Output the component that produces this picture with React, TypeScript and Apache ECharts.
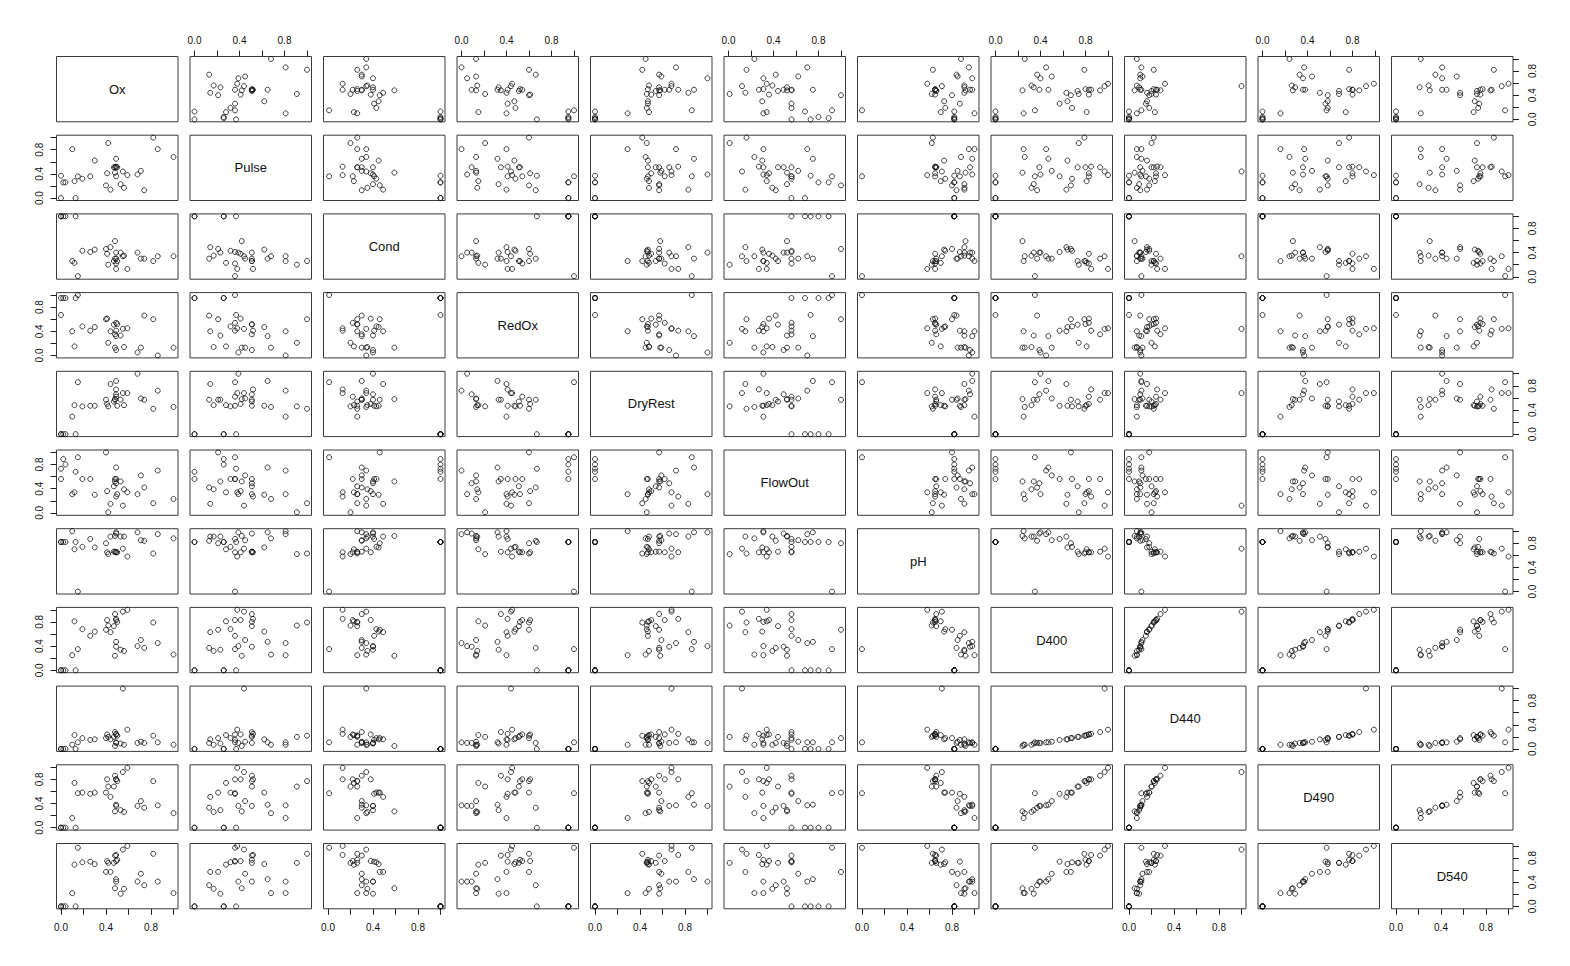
import React, { useEffect, useRef } from "react";
import * as echarts from "echarts";

// Variable names (diagonal labels)
const varNames = ["Ox", "Pulse", "Cond", "RedOx", "DryRest", "FlowOut", "pH", "D400", "D440", "D490", "D540"];

const Ox = [0, 0, 0.02, 0.04, 0.13, 0.48, 0.1, 1.0, 0.56, 0.53, 0.15, 0.74, 0.49, 0.68, 0.86, 0.49, 0.71, 0.26, 0.44, 0.3, 0.4, 0.19, 0.47, 0.42, 0.82, 0.5, 0.12, 0.41, 0.49, 0.49, 0.48, 0.55, 0.59];
const Pulse = [0.37, 0, 0.26, 0.26, 0, 0.42, 0.81, 0.68, 0.17, 0.23, 0.36, 0.13, 0.51, 0.39, 0.81, 0.65, 0.45, 0.36, 0.14, 0.62, 0.21, 0.32, 0.51, 0.91, 1.0, 0.51, 0.28, 0.41, 0.36, 0.52, 0.51, 0.44, 0.38];
const Cond = [1.0, 1.0, 1.0, 1.0, 1.0, 0.59, 0.26, 0.34, 0.35, 0.4, 0.01, 0.3, 0.4, 0.4, 0.34, 0.3, 0.3, 0.41, 0.49, 0.45, 0.46, 0.43, 0.26, 0.2, 0.26, 0.26, 0.23, 0.38, 0.22, 0.13, 0.3, 0.34, 0.13];
const RedOx = [0.67, 0.95, 0.95, 0.95, 0.95, 0.13, 0.4, 0.13, 0.14, 0.33, 1.0, 0.66, 0.09, 0.05, 0.0, 0.32, 0.13, 0.41, 0.4, 0.47, 0.6, 0.48, 0.51, 0.21, 0.6, 0.52, 0.15, 0.61, 0.54, 0.41, 0.35, 0.44, 0.45];
const DryRest = [0, 0, 0, 0, 0, 0.58, 0.29, 0.45, 0.48, 0.57, 0.86, 0.57, 0.66, 1.0, 0.72, 0.88, 0.59, 0.47, 0.83, 0.47, 0.57, 0.46, 0.54, 0.46, 0.42, 0.47, 0.48, 0.5, 0.62, 0.74, 0.57, 0.68, 0.68];
const FlowOut = [0.73, 0.56, 0.89, 0.8, 0.68, 0.52, 0.31, 0.23, 0.39, 0.52, 0.92, 0.42, 0.49, 0.31, 0.7, 0.75, 0.62, 0.56, 0.15, 0.3, 1.0, 0.56, 0.44, 0.01, 0.16, 0.31, 0.34, 0.36, 0.56, 0.27, 0.56, 0.12, 0.34];
const pH = [0.82, 0.82, 0.82, 0.82, 0.82, 0.92, 1.0, 0.88, 0.91, 0.91, 0.0, 0.84, 0.96, 0.98, 0.95, 0.98, 0.85, 0.87, 0.91, 0.73, 0.8, 0.74, 0.66, 0.62, 0.63, 0.65, 0.7, 0.65, 0.65, 0.65, 0.66, 0.71, 0.58];
const D400 = [0, 0, 0, 0, 0, 0.24, 0.25, 0.26, 0.32, 0.34, 0.35, 0.37, 0.39, 0.4, 0.45, 0.47, 0.5, 0.57, 0.63, 0.64, 0.67, 0.68, 0.73, 0.74, 0.79, 0.8, 0.81, 0.83, 0.83, 0.85, 0.93, 0.97, 1.0];
const D440 = [0, 0, 0, 0, 0, 0.05, 0.07, 0.07, 0.07, 0.09, 0.11, 0.1, 0.1, 0.1, 0.11, 0.11, 0.12, 0.15, 0.16, 0.16, 0.18, 0.18, 0.2, 0.2, 0.22, 0.22, 0.23, 0.24, 0.24, 0.25, 0.28, 1.0, 0.32];
const D490 = [0, 0, 0, 0, 0, 0.27, 0.16, 0.24, 0.26, 0.29, 0.57, 0.33, 0.36, 0.36, 0.37, 0.38, 0.44, 0.56, 0.51, 0.58, 0.58, 0.58, 0.68, 0.68, 0.77, 0.77, 0.74, 0.8, 0.8, 0.8, 0.86, 0.92, 0.99];
const D540 = [0, 0, 0, 0, 0, 0.3, 0.22, 0.22, 0.29, 0.21, 0.97, 0.35, 0.41, 0.41, 0.41, 0.45, 0.54, 0.74, 0.57, 0.7, 0.57, 0.73, 0.72, 0.72, 0.87, 0.77, 0.69, 0.75, 0.75, 0.85, 0.84, 0.94, 1.0];

const variables = [Ox, Pulse, Cond, RedOx, DryRest, FlowOut, pH, D400, D440, D490, D540];

// Axis ticks and labels
const tickValues = [0, 0.2, 0.4, 0.6, 0.8, 1.0];
const labelValues = [0, 0.4, 0.8];

export default function App() {
  const ref = useRef<HTMLDivElement>(null);

  useEffect(() => {
    document.body.style.margin = "0";
    if (!ref.current) return;
    const chart = echarts.init(ref.current, undefined, { renderer: "svg" });

    const n = variables.length;
    const left0 = 56.5;
    const top0 = 56.5;
    const colStep = 133.5;
    const rowStep = 78.7;
    const w = 121.5;
    const h = 65.3;
    const font = "'Liberation Sans', Arial, Helvetica, sans-serif";

    const grids: any[] = [];
    const xAxes: any[] = [];
    const yAxes: any[] = [];
    const series: any[] = [];
    const graphics: any[] = [];

    for (let r = 0; r < n; r++) {
      for (let c = 0; c < n; c++) {
        const idx = r * n + c;
        const left = left0 + colStep * c;
        const top = top0 + rowStep * r;
        grids.push({
          left,
          top,
          width: w,
          height: h,
          show: true,
          borderColor: "#3a3a3a",
          borderWidth: 1,
          backgroundColor: "transparent",
          containLabel: false,
        });
        const showTop = r === 0 && c % 2 === 1;
        const showBottom = r === n - 1 && c % 2 === 0;
        const showX = showTop || showBottom;
        const showLeft = c === 0 && r % 2 === 1;
        const showRight = c === n - 1 && r % 2 === 0;
        const showY = showLeft || showRight;
        xAxes.push({
          gridIndex: idx,
          type: "value",
          min: -0.04,
          max: 1.04,
          position: showTop ? "top" : "bottom",
          axisLine: { show: false, onZero: false },
          splitLine: { show: false },
          axisTick: {
            show: showX,
            inside: false,
            length: 6,
            customValues: tickValues,
            lineStyle: { color: "#222", width: 1 },
          },
          axisLabel: {
            show: showX,
            customValues: labelValues,
            formatter: (v: number) => v.toFixed(1),
            fontSize: 10,
            color: "#111",
            fontFamily: font,
            margin: showTop ? 11 : 14,
          },
        });
        yAxes.push({
          gridIndex: idx,
          type: "value",
          min: -0.04,
          max: 1.04,
          position: showRight ? "right" : "left",
          axisLine: { show: false, onZero: false },
          splitLine: { show: false },
          axisTick: {
            show: showY,
            inside: false,
            length: 6,
            customValues: tickValues,
            lineStyle: { color: "#222", width: 1 },
          },
          axisLabel: {
            show: showY,
            customValues: labelValues,
            formatter: (v: number) => v.toFixed(1),
            rotate: 90,
            fontSize: 10,
            color: "#111",
            fontFamily: font,
            margin: showRight ? 14 : 12,
          },
        });
        if (r === c) {
          graphics.push({
            type: "text",
            x: left + w / 2,
            y: top + h / 2,
            style: {
              text: varNames[r],
              fontSize: 13,
              fontWeight: "normal",
              fontFamily: font,
              fill: "#111",
              textAlign: "center",
              textVerticalAlign: "middle",
            },
          });
        } else {
          const xs = variables[c];
          const ys = variables[r];
          series.push({
            type: "scatter",
            xAxisIndex: idx,
            yAxisIndex: idx,
            symbol: "circle",
            symbolSize: 5,
            itemStyle: { color: "rgba(0,0,0,0)", borderColor: "#111", borderWidth: 1 },
            emphasis: { disabled: true },
            data: xs.map((x, i) => [x, ys[i]]),
          });
        }
      }
    }

    chart.setOption({
      animation: false,
      backgroundColor: "#ffffff",
      grid: grids,
      xAxis: xAxes,
      yAxis: yAxes,
      series,
      graphic: graphics,
    });

    return () => chart.dispose();
  }, []);

  return <div ref={ref} style={{ width: 1570, height: 966 }} />;
}
